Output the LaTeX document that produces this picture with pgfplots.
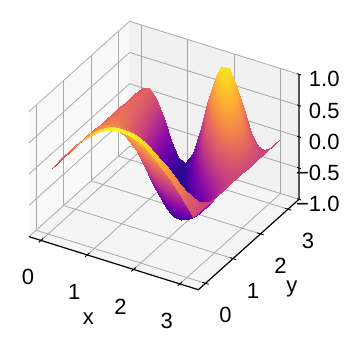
\documentclass[border=0pt]{standalone}
\usepackage{pgfplots}
\pgfplotsset{compat=1.18}
\usepackage{fontspec}
\setmainfont{Liberation Sans}
\pgfplotsset{colormap={plasma}{rgb255=(13,8,135) rgb255=(65,4,157) rgb255=(106,0,168) rgb255=(143,13,164) rgb255=(177,42,144) rgb255=(204,71,120) rgb255=(225,100,98) rgb255=(242,132,75) rgb255=(252,166,54) rgb255=(252,206,37) rgb255=(240,249,33)}}
\begin{document}
\begin{tikzpicture}
\useasboundingbox (0,0) rectangle (351pt,341pt);
\begin{axis}[
  at={(48.1pt,169.5pt)}, anchor=origin,
  x={(46.3pt,-14.5pt)}, y={(27.5pt,24.7pt)}, z={(0pt,62.5pt)},
  xmin=-0.26, xmax=3.4, ymin=-0.26, ymax=3.4, zmin=-1, zmax=1,
  clip=false, axis line style={draw=none},
  grid=major, grid style={color=black!31, line width=0.8pt},
  xtick={0,1,2,3}, ytick={0,1,2,3}, ztick={-1,-0.5,0,0.5,1},
  xticklabels={0,1,2,3}, yticklabels={0,1,2,3},
  zticklabels={−1.0,−0.5,0.0,0.5,1.0},
  major tick length=0pt, tick style={draw=none},
  xtick pos=left, ytick pos=left, ztick pos=right,
  xticklabel pos=left, yticklabel pos=left, zticklabel pos=right,
  tick label style={font=\fontsize{22}{22}\selectfont},
  x tick label style={anchor=center, xshift=-13pt, yshift=-37pt},
  y tick label style={anchor=center, xshift=20pt, yshift=-32pt},
  z tick label style={anchor=east, xshift=44pt, yshift=-5pt},
  /pgf/number format/assume math mode=true,
  xlabel={x}, ylabel={y},
  label style={font=\fontsize{22}{22}\selectfont},
  xlabel style={at={(axis cs:1.5,-0.26,-1)}, anchor=center, xshift=-22pt, yshift=-57pt, rotate=0},
  ylabel style={at={(axis cs:3.4,1.5,-1)}, anchor=center, xshift=45pt, yshift=-43pt, rotate=0},
  point meta min=-1, point meta max=1, colormap name=plasma,
]
\fill[black, opacity=0.025] (axis cs:-0.26,-0.26,-1) -- (axis cs:-0.26,3.4,-1) -- (axis cs:-0.26,3.4,1) -- (axis cs:-0.26,-0.26,1) -- cycle;
\fill[black, opacity=0.055] (axis cs:-0.26,3.4,-1) -- (axis cs:3.4,3.4,-1) -- (axis cs:3.4,3.4,1) -- (axis cs:-0.26,3.4,1) -- cycle;
\fill[black, opacity=0.04] (axis cs:-0.26,-0.26,-1) -- (axis cs:3.4,-0.26,-1) -- (axis cs:3.4,3.4,-1) -- (axis cs:-0.26,3.4,-1) -- cycle;
\addplot3[surf, shader=interp, z buffer=sort, mesh/rows=21, mesh/cols=21, mesh/ordering=y varies] table[row sep=\\] {
x y z\\
0 0 0\\0 0.16 0\\0 0.31 0\\0 0.47 0\\0 0.63 0\\0 0.79 0\\0 0.94 0\\0 1.10 0\\0 1.26 0\\0 1.41 0\\0 1.57 0\\0 1.73 0\\0 1.88 0\\0 2.04 0\\0 2.20 0\\0 2.36 0\\0 2.51 0\\0 2.67 0\\0 2.83 0\\0 2.98 0\\0 3.14 0\\
0.16 0 0.156\\0.16 0.16 0.156\\0.16 0.31 0.156\\0.16 0.47 0.156\\0.16 0.63 0.155\\0.16 0.79 0.155\\0.16 0.94 0.154\\0.16 1.10 0.154\\0.16 1.26 0.153\\0.16 1.41 0.152\\0.16 1.57 0.151\\0.16 1.73 0.150\\0.16 1.88 0.149\\0.16 2.04 0.148\\0.16 2.20 0.147\\0.16 2.36 0.145\\0.16 2.51 0.144\\0.16 2.67 0.142\\0.16 2.83 0.141\\0.16 2.98 0.139\\0.16 3.14 0.137\\
0.31 0 0.309\\0.31 0.16 0.309\\0.31 0.31 0.307\\0.31 0.47 0.306\\0.31 0.63 0.303\\0.31 0.79 0.300\\0.31 0.94 0.295\\0.31 1.10 0.291\\0.31 1.26 0.285\\0.31 1.41 0.279\\0.31 1.57 0.272\\0.31 1.73 0.265\\0.31 1.88 0.256\\0.31 2.04 0.248\\0.31 2.20 0.238\\0.31 2.36 0.228\\0.31 2.51 0.218\\0.31 2.67 0.206\\0.31 2.83 0.195\\0.31 2.98 0.183\\0.31 3.14 0.171\\
0.47 0 0.454\\0.47 0.16 0.453\\0.47 0.31 0.449\\0.47 0.47 0.443\\0.47 0.63 0.434\\0.47 0.79 0.423\\0.47 0.94 0.410\\0.47 1.10 0.395\\0.47 1.26 0.377\\0.47 1.41 0.357\\0.47 1.57 0.335\\0.47 1.73 0.311\\0.47 1.88 0.286\\0.47 2.04 0.260\\0.47 2.20 0.231\\0.47 2.36 0.202\\0.47 2.51 0.171\\0.47 2.67 0.139\\0.47 2.83 0.108\\0.47 2.98 0.074\\0.47 3.14 0.041\\
0.63 0 0.588\\0.63 0.16 0.585\\0.63 0.31 0.577\\0.63 0.47 0.562\\0.63 0.63 0.543\\0.63 0.79 0.517\\0.63 0.94 0.488\\0.63 1.10 0.453\\0.63 1.26 0.415\\0.63 1.41 0.371\\0.63 1.57 0.325\\0.63 1.73 0.274\\0.63 1.88 0.221\\0.63 2.04 0.167\\0.63 2.20 0.110\\0.63 2.36 0.054\\0.63 2.51 -0.005\\0.63 2.67 -0.062\\0.63 2.83 -0.121\\0.63 2.98 -0.176\\0.63 3.14 -0.231\\
0.79 0 0.707\\0.79 0.16 0.701\\0.79 0.31 0.686\\0.79 0.47 0.659\\0.79 0.63 0.622\\0.79 0.79 0.577\\0.79 0.94 0.522\\0.79 1.10 0.459\\0.79 1.26 0.390\\0.79 1.41 0.315\\0.79 1.57 0.234\\0.79 1.73 0.149\\0.79 1.88 0.064\\0.79 2.04 -0.023\\0.79 2.20 -0.110\\0.79 2.36 -0.195\\0.79 2.51 -0.277\\0.79 2.67 -0.356\\0.79 2.83 -0.428\\0.79 2.98 -0.493\\0.79 3.14 -0.553\\
0.94 0 0.809\\0.94 0.16 0.800\\0.94 0.31 0.773\\0.94 0.47 0.731\\0.94 0.63 0.671\\0.94 0.79 0.597\\0.94 0.94 0.510\\0.94 1.10 0.412\\0.94 1.26 0.304\\0.94 1.41 0.192\\0.94 1.57 0.074\\0.94 1.73 -0.047\\0.94 1.88 -0.166\\0.94 2.04 -0.281\\0.94 2.20 -0.388\\0.94 2.36 -0.489\\0.94 2.51 -0.579\\0.94 2.67 -0.656\\0.94 2.83 -0.719\\0.94 2.98 -0.766\\0.94 3.14 -0.796\\
1.10 0 0.891\\1.10 0.16 0.878\\1.10 0.31 0.838\\1.10 0.47 0.774\\1.10 0.63 0.686\\1.10 0.79 0.578\\1.10 0.94 0.454\\1.10 1.10 0.315\\1.10 1.26 0.167\\1.10 1.41 0.014\\1.10 1.57 -0.139\\1.10 1.73 -0.289\\1.10 1.88 -0.428\\1.10 2.04 -0.556\\1.10 2.20 -0.667\\1.10 2.36 -0.759\\1.10 2.51 -0.828\\1.10 2.67 -0.872\\1.10 2.83 -0.890\\1.10 2.98 -0.882\\1.10 3.14 -0.848\\
1.26 0 0.951\\1.26 0.16 0.933\\1.26 0.31 0.878\\1.26 0.47 0.789\\1.26 0.63 0.670\\1.26 0.79 0.525\\1.26 0.94 0.358\\1.26 1.10 0.178\\1.26 1.26 -0.009\\1.26 1.41 -0.195\\1.26 1.57 -0.373\\1.26 1.73 -0.537\\1.26 1.88 -0.681\\1.26 2.04 -0.798\\1.26 2.20 -0.883\\1.26 2.36 -0.936\\1.26 2.51 -0.951\\1.26 2.67 -0.929\\1.26 2.83 -0.871\\1.26 2.98 -0.780\\1.26 3.14 -0.658\\
1.41 0 0.988\\1.41 0.16 0.964\\1.41 0.31 0.892\\1.41 0.47 0.777\\1.41 0.63 0.623\\1.41 0.79 0.440\\1.41 0.94 0.234\\1.41 1.10 0.016\\1.41 1.26 -0.203\\1.41 1.41 -0.410\\1.41 1.57 -0.598\\1.41 1.73 -0.757\\1.41 1.88 -0.878\\1.41 2.04 -0.956\\1.41 2.20 -0.987\\1.41 2.36 -0.970\\1.41 2.51 -0.905\\1.41 2.67 -0.796\\1.41 2.83 -0.648\\1.41 2.98 -0.468\\1.41 3.14 -0.264\\
1.57 0 1.000\\1.57 0.16 0.970\\1.57 0.31 0.880\\1.57 0.47 0.738\\1.57 0.63 0.552\\1.57 0.79 0.331\\1.57 0.94 0.091\\1.57 1.10 -0.156\\1.57 1.26 -0.392\\1.57 1.41 -0.605\\1.57 1.57 -0.782\\1.57 1.73 -0.910\\1.57 1.88 -0.984\\1.57 2.04 -0.998\\1.57 2.20 -0.952\\1.57 2.36 -0.847\\1.57 2.51 -0.692\\1.57 2.67 -0.495\\1.57 2.83 -0.267\\1.57 2.98 -0.024\\1.57 3.14 0.220\\
1.73 0 0.988\\1.73 0.16 0.951\\1.73 0.31 0.846\\1.73 0.47 0.678\\1.73 0.63 0.460\\1.73 0.79 0.208\\1.73 0.94 -0.057\\1.73 1.10 -0.320\\1.73 1.26 -0.558\\1.73 1.41 -0.757\\1.73 1.57 -0.899\\1.73 1.73 -0.976\\1.73 1.88 -0.981\\1.73 2.04 -0.915\\1.73 2.20 -0.782\\1.73 2.36 -0.591\\1.73 2.51 -0.358\\1.73 2.67 -0.097\\1.73 2.83 0.170\\1.73 2.98 0.426\\1.73 3.14 0.648\\
1.88 0 0.951\\1.88 0.16 0.909\\1.88 0.31 0.789\\1.88 0.47 0.600\\1.88 0.63 0.358\\1.88 0.79 0.087\\1.88 0.94 -0.195\\1.88 1.10 -0.458\\1.88 1.26 -0.681\\1.88 1.41 -0.845\\1.88 1.57 -0.936\\1.88 1.73 -0.944\\1.88 1.88 -0.871\\1.88 2.04 -0.723\\1.88 2.20 -0.511\\1.88 2.36 -0.254\\1.88 2.51 0.023\\1.88 2.67 0.301\\1.88 2.83 0.551\\1.88 2.98 0.752\\1.88 3.14 0.889\\
2.04 0 0.891\\2.04 0.16 0.846\\2.04 0.31 0.714\\2.04 0.47 0.510\\2.04 0.63 0.253\\2.04 0.79 -0.029\\2.04 0.94 -0.309\\2.04 1.10 -0.556\\2.04 1.26 -0.748\\2.04 1.41 -0.862\\2.04 1.57 -0.889\\2.04 1.73 -0.825\\2.04 1.88 -0.677\\2.04 2.04 -0.460\\2.04 2.20 -0.196\\2.04 2.36 0.088\\2.04 2.51 0.363\\2.04 2.67 0.601\\2.04 2.83 0.778\\2.04 2.98 0.875\\2.04 3.14 0.883\\
2.20 0 0.809\\2.20 0.16 0.761\\2.20 0.31 0.623\\2.20 0.47 0.412\\2.20 0.63 0.151\\2.20 0.79 -0.126\\2.20 0.94 -0.390\\2.20 1.10 -0.606\\2.20 1.26 -0.752\\2.20 1.41 -0.808\\2.20 1.57 -0.770\\2.20 1.73 -0.640\\2.20 1.88 -0.434\\2.20 2.04 -0.178\\2.20 2.20 0.100\\2.20 2.36 0.366\\2.20 2.51 0.589\\2.20 2.67 0.742\\2.20 2.83 0.807\\2.20 2.98 0.777\\2.20 3.14 0.656\\
2.36 0 0.707\\2.36 0.16 0.659\\2.36 0.31 0.522\\2.36 0.47 0.315\\2.36 0.63 0.064\\2.36 0.79 -0.195\\2.36 0.94 -0.428\\2.36 1.10 -0.602\\2.36 1.26 -0.696\\2.36 1.41 -0.694\\2.36 1.57 -0.599\\2.36 1.73 -0.423\\2.36 1.88 -0.189\\2.36 2.04 0.070\\2.36 2.20 0.320\\2.36 2.36 0.526\\2.36 2.51 0.661\\2.36 2.67 0.707\\2.36 2.83 0.657\\2.36 2.98 0.518\\2.36 3.14 0.309\\
2.51 0 0.588\\2.51 0.16 0.543\\2.51 0.31 0.415\\2.51 0.47 0.221\\2.51 0.63 -0.005\\2.51 0.79 -0.231\\2.51 0.94 -0.421\\2.51 1.10 -0.546\\2.51 1.26 -0.588\\2.51 1.41 -0.539\\2.51 1.57 -0.407\\2.51 1.73 -0.213\\2.51 1.88 0.014\\2.51 2.04 0.240\\2.51 2.20 0.428\\2.51 2.36 0.550\\2.51 2.51 0.587\\2.51 2.67 0.535\\2.51 2.83 0.399\\2.51 2.98 0.203\\2.51 3.14 -0.025\\
2.67 0 0.454\\2.67 0.16 0.415\\2.67 0.31 0.303\\2.67 0.47 0.139\\2.67 0.63 -0.048\\2.67 0.79 -0.228\\2.67 0.94 -0.368\\2.67 1.10 -0.444\\2.67 1.26 -0.444\\2.67 1.41 -0.366\\2.67 1.57 -0.225\\2.67 1.73 -0.044\\2.67 1.88 0.143\\2.67 2.04 0.306\\2.67 2.20 0.416\\2.67 2.36 0.454\\2.67 2.51 0.413\\2.67 2.67 0.300\\2.67 2.83 0.136\\2.67 2.98 -0.052\\2.67 3.14 -0.232\\
2.83 0 0.309\\2.83 0.16 0.279\\2.83 0.31 0.195\\2.83 0.47 0.073\\2.83 0.63 -0.063\\2.83 0.79 -0.187\\2.83 0.94 -0.275\\2.83 1.10 -0.309\\2.83 1.26 -0.283\\2.83 1.41 -0.203\\2.83 1.57 -0.083\\2.83 1.73 0.053\\2.83 1.88 0.179\\2.83 2.04 0.270\\2.83 2.20 0.308\\2.83 2.36 0.287\\2.83 2.51 0.210\\2.83 2.67 0.092\\2.83 2.83 -0.043\\2.83 2.98 -0.171\\2.83 3.14 -0.265\\
2.98 0 0.156\\2.98 0.16 0.139\\2.98 0.31 0.092\\2.98 0.47 0.025\\2.98 0.63 -0.047\\2.98 0.79 -0.109\\2.98 0.94 -0.148\\2.98 1.10 -0.154\\2.98 1.26 -0.128\\2.98 1.41 -0.074\\2.98 1.57 -0.004\\2.98 1.73 0.067\\2.98 1.88 0.123\\2.98 2.04 0.153\\2.98 2.20 0.150\\2.98 2.36 0.114\\2.98 2.51 0.054\\2.98 2.67 -0.018\\2.98 2.83 -0.086\\2.98 2.98 -0.136\\2.98 3.14 -0.156\\
3.14 0 0\\3.14 0.16 0\\3.14 0.31 0\\3.14 0.47 0\\3.14 0.63 0\\3.14 0.79 0\\3.14 0.94 0\\3.14 1.10 0\\3.14 1.26 0\\3.14 1.41 0\\3.14 1.57 0\\3.14 1.73 0\\3.14 1.88 0\\3.14 2.04 0\\3.14 2.20 0\\3.14 2.36 0\\3.14 2.51 0\\3.14 2.67 0\\3.14 2.83 0\\3.14 2.98 0\\3.14 3.14 0\\
};
\draw[black, line width=1.2pt] (axis cs:-0.26,-0.26,-1) -- (axis cs:3.4,-0.26,-1) -- (axis cs:3.4,3.4,-1) -- (axis cs:3.4,3.4,1);
% tick marks
\draw[black, line width=0.9pt]
  (axis cs:0,-0.34,-1) -- (axis cs:0,-0.18,-1) (axis cs:1,-0.34,-1) -- (axis cs:1,-0.18,-1)
  (axis cs:2,-0.34,-1) -- (axis cs:2,-0.18,-1) (axis cs:3,-0.34,-1) -- (axis cs:3,-0.18,-1)
  (axis cs:3.33,0,-1) -- (axis cs:3.47,0,-1) (axis cs:3.33,1,-1) -- (axis cs:3.47,1,-1)
  (axis cs:3.33,2,-1) -- (axis cs:3.47,2,-1) (axis cs:3.33,3,-1) -- (axis cs:3.47,3,-1)
  (axis cs:3.36,3.4,-1) -- (axis cs:3.44,3.4,-1) (axis cs:3.36,3.4,-0.5) -- (axis cs:3.44,3.4,-0.5)
  (axis cs:3.36,3.4,0) -- (axis cs:3.44,3.4,0) (axis cs:3.36,3.4,0.5) -- (axis cs:3.44,3.4,0.5)
  (axis cs:3.36,3.4,1) -- (axis cs:3.44,3.4,1);
\end{axis}
\end{tikzpicture}
\end{document}
